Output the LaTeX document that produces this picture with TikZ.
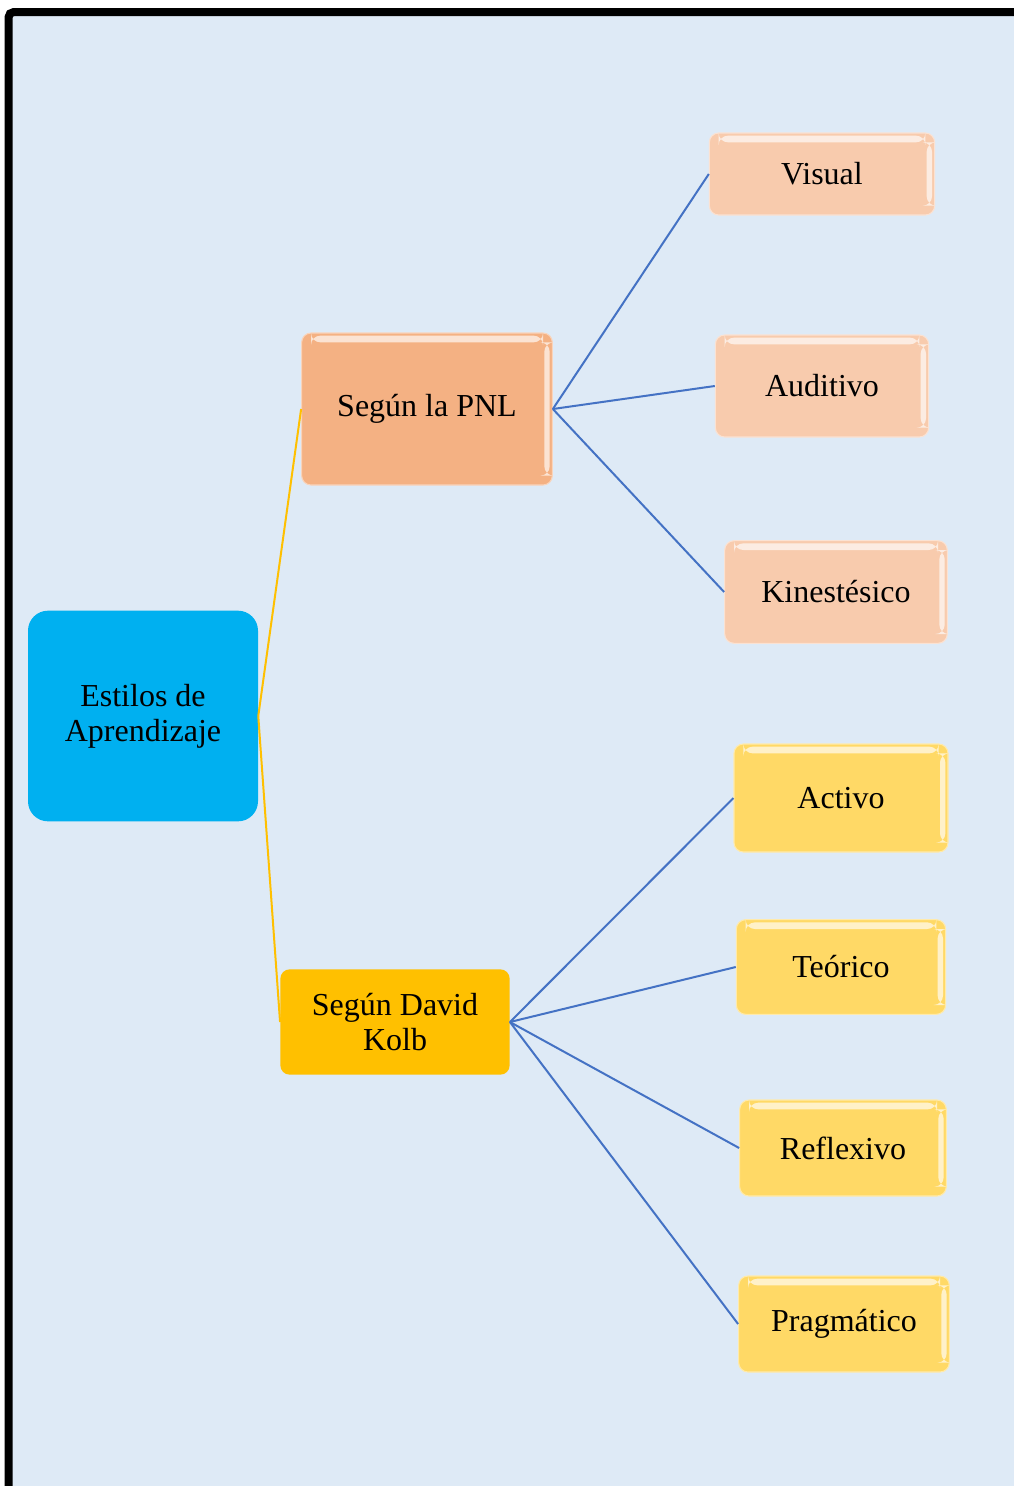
\documentclass[tikz,border=0pt]{standalone}
\usepackage{fontspec}
\setmainfont{Liberation Serif}
\definecolor{pagebg}{HTML}{DEEAF6}
\definecolor{rootblue}{HTML}{00B0F0}
\definecolor{pnlorange}{HTML}{F4B183}
\definecolor{pnlchild}{HTML}{F8CBAD}
\definecolor{kolbgold}{HTML}{FFC000}
\definecolor{kolbchild}{HTML}{FFD966}
\definecolor{linkblue}{HTML}{4472C4}
\tikzset{
  box/.style={rounded corners=7pt, align=center, inner sep=2pt,
    font=\fontsize{24}{26}\selectfont},
  gloss/.style={box, draw=white!45!#1, line width=0.8pt, fill=#1,
    path picture={
      \fill[white, opacity=0.65] ([xshift=7pt,yshift=-2pt]path picture bounding box.north west)
        rectangle ([xshift=-7pt,yshift=-7pt]path picture bounding box.north east);
      \fill[white, opacity=0.65] ([xshift=-2pt,yshift=-7pt]path picture bounding box.north east)
        rectangle ([xshift=-6pt,yshift=7pt]path picture bounding box.south east);
    }},
  trunk/.style={kolbgold, line width=1.5pt},
  branch/.style={linkblue, line width=1.5pt}
}
\begin{document}
\begin{tikzpicture}[x=0.75pt, y=-0.75pt]

    % Page and frame
    \useasboundingbox (0,0) rectangle (1014,1486);
    \clip (0,0) rectangle (1014,1486);
    \fill[white] (0,0) rectangle (1014,1486);
    \draw[line width=6pt, rounded corners=4pt, fill=pagebg] (8.5,12) rectangle (1060,1540);

    % Root
    \node[box, fill=rootblue, rounded corners=15pt, minimum width=172.5pt, minimum height=158pt]
      (estilos) at (143,716) {Estilos de\\Aprendizaje};

    % First level
    \node[gloss=pnlorange, minimum width=188pt, minimum height=114pt]
      (pnl) at (427,409) {Según la PNL};
    \node[box, fill=kolbgold, minimum width=172pt, minimum height=79pt]
      (kolb) at (395,1022) {Según David\\Kolb};

    % Styles after PNL
    \node[gloss=pnlchild, minimum width=169pt, minimum height=61.5pt]
      (visual) at (822,174) {Visual};
    \node[gloss=pnlchild, minimum width=160pt, minimum height=76.5pt]
      (auditivo) at (822,386) {Auditivo};
    \node[gloss=pnlchild, minimum width=167pt, minimum height=77pt]
      (kinest) at (836,592) {Kinestésico};

    % Styles after Kolb
    \node[gloss=kolbchild, minimum width=160.5pt, minimum height=81pt]
      (activo) at (841,798) {Activo};
    \node[gloss=kolbchild, minimum width=157pt, minimum height=71pt]
      (teorico) at (841,967) {Teórico};
    \node[gloss=kolbchild, minimum width=155pt, minimum height=72pt]
      (reflexivo) at (843,1148) {Reflexivo};
    \node[gloss=kolbchild, minimum width=158pt, minimum height=72pt]
      (pragmatico) at (844,1324) {Pragmático};

    % Connectors
    \draw[trunk] (estilos.east) -- (pnl.west);
    \draw[trunk] (estilos.east) -- (kolb.west);
    \foreach \leaf in {visual, auditivo, kinest}
      \draw[branch] (pnl.east) -- (\leaf.west);
    \foreach \leaf in {activo, teorico, reflexivo, pragmatico}
      \draw[branch] (kolb.east) -- (\leaf.west);

\end{tikzpicture}
\end{document}
